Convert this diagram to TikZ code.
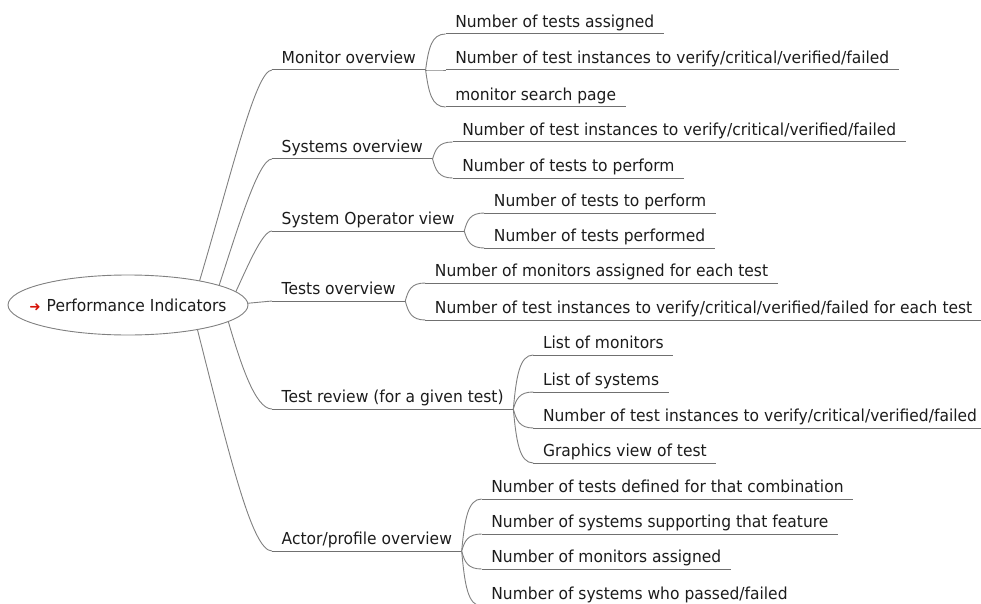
\documentclass[tikz,border=0pt]{standalone}
\usepackage{fontspec}
\setmainfont{DejaVu Sans}[FakeStretch=0.94]
\newfontfamily\iconfont{DejaVu Sans}
\usetikzlibrary{shapes.geometric,backgrounds}

\definecolor{edgegray}{RGB}{128,128,128}
\definecolor{linegray}{RGB}{112,112,112}
\definecolor{inkdark}{RGB}{28,28,28}
\definecolor{iconred}{RGB}{214,18,8}

% fork edge from the end of a parent's underline to the start of a child's
\newcommand\forkedge[3]{%
  \draw[edge] (#1.south east) .. controls +(3,#3) and +(-14,0) .. (#2.south west);}

\begin{document}
\begin{tikzpicture}[x=1pt,y=-1pt,
  font=\fontsize{16.5}{19}\selectfont,
  edge/.style={draw=edgegray,line width=0.9pt},
  uline/.style={draw=linegray,line width=1pt},
  topic/.style={anchor=south west,text=inkdark,inner xsep=9.5pt,inner ysep=0pt,
                text height=12pt,text depth=6pt},
  rootnode/.style={ellipse,draw=edgegray,line width=0.9pt,fill=white,text=inkdark,
                   inner sep=0pt,minimum width=240pt,minimum height=60pt}]
\useasboundingbox (0,0) rectangle (981,604);

% central topic
\node[rootnode] (root) at (128,305)
  {\makebox[0pt]{\textcolor{iconred}{\iconfont\fontsize{13.5}{13.5}\selectfont ➜}\hspace{6pt}Performance Indicators}};

% main branches
\node[topic] (mon) at (272,70)  {Monitor overview};
\node[topic] (sys) at (272,159) {Systems overview};
\node[topic] (op)  at (272,231) {System Operator view};
\node[topic] (tov) at (272,301) {Tests overview};
\node[topic] (rev) at (272,409) {Test review (for a given test)};
\node[topic] (act) at (272,551) {Actor/profile overview};

% leaves of Monitor overview
\node[topic] (mon1) at ([shift={(20,-36)}]mon.south east) {Number of tests assigned};
\node[topic] (mon2) at ([shift={(20,0)}]mon.south east)   {Number of test instances to verify/critical/verified/failed};
\node[topic] (mon3) at ([shift={(20,37)}]mon.south east)  {monitor search page};
% leaves of Systems overview
\node[topic] (sys1) at ([shift={(20,-17)}]sys.south east) {Number of test instances to verify/critical/verified/failed};
\node[topic] (sys2) at ([shift={(20,19)}]sys.south east)  {Number of tests to perform};
% leaves of System Operator view
\node[topic] (op1) at ([shift={(20,-18)}]op.south east) {Number of tests to perform};
\node[topic] (op2) at ([shift={(20,17)}]op.south east)  {Number of tests performed};
% leaves of Tests overview
\node[topic] (tov1) at ([shift={(20,-18)}]tov.south east) {Number of monitors assigned for each test};
\node[topic] (tov2) at ([shift={(20,19)}]tov.south east)  {Number of test instances to verify/critical/verified/failed for each test};
% leaves of Test review
\node[topic] (rev1) at ([shift={(20,-54)}]rev.south east) {List of monitors};
\node[topic] (rev2) at ([shift={(20,-17)}]rev.south east) {List of systems};
\node[topic] (rev3) at ([shift={(20,19)}]rev.south east)  {Number of test instances to verify/critical/verified/failed};
\node[topic] (rev4) at ([shift={(20,54)}]rev.south east)  {Graphics view of test};
% leaves of Actor/profile overview
\node[topic] (act1) at ([shift={(20,-52)}]act.south east) {Number of tests defined for that combination};
\node[topic] (act2) at ([shift={(20,-17)}]act.south east) {Number of systems supporting that feature};
\node[topic] (act3) at ([shift={(20,18)}]act.south east)  {Number of monitors assigned};
\node[topic] (act4) at ([shift={(20,55)}]act.south east)  {Number of systems who passed/failed};

% underlines
\foreach \n in {mon,sys,op,tov,rev,act,mon1,mon2,mon3,sys1,sys2,op1,op2,
                tov1,tov2,rev1,rev2,rev3,rev4,act1,act2,act3,act4}
  \draw[uline] (\n.south west) -- (\n.south east);

\begin{scope}[on background layer]
  % edges leaving the central topic
  \coordinate (s-mon) at ([shift={(67,-9)}]root.center);
  \coordinate (s-sys) at ([shift={(87,-7)}]root.center);
  \coordinate (s-op)  at ([shift={(104,-5)}]root.center);
  \coordinate (s-tov) at ([shift={(112,-1)}]root.center);
  \coordinate (s-rev) at ([shift={(97,5)}]root.center);
  \coordinate (s-act) at ([shift={(65,7)}]root.center);
  \draw[edge] (s-mon) .. controls +(35,-115) and +(-17,0) .. (mon.south west);
  \draw[edge] (s-sys) .. controls +(22,-67) and +(-14,0) .. (sys.south west);
  \draw[edge] (s-op)  .. controls +(15,-32) and +(-10,0) .. (op.south west);
  \draw[edge] (s-tov) -- (tov.south west);
  \draw[edge] (s-rev) .. controls +(15,53) and +(-17,0) .. (rev.south west);
  \draw[edge] (s-act) .. controls +(37,146) and +(-20,0) .. (act.south west);
\end{scope}

% edges to the leaves
\forkedge{mon}{mon1}{-22}
\forkedge{mon}{mon2}{0}
\forkedge{mon}{mon3}{22}
\forkedge{sys}{sys1}{-10}
\forkedge{sys}{sys2}{11}
\forkedge{op}{op1}{-11}
\forkedge{op}{op2}{10}
\forkedge{tov}{tov1}{-11}
\forkedge{tov}{tov2}{11}
\forkedge{rev}{rev1}{-32}
\forkedge{rev}{rev2}{-10}
\forkedge{rev}{rev3}{11}
\forkedge{rev}{rev4}{32}
\forkedge{act}{act1}{-31}
\forkedge{act}{act2}{-10}
\forkedge{act}{act3}{11}
\forkedge{act}{act4}{33}
\end{tikzpicture}
\end{document}
